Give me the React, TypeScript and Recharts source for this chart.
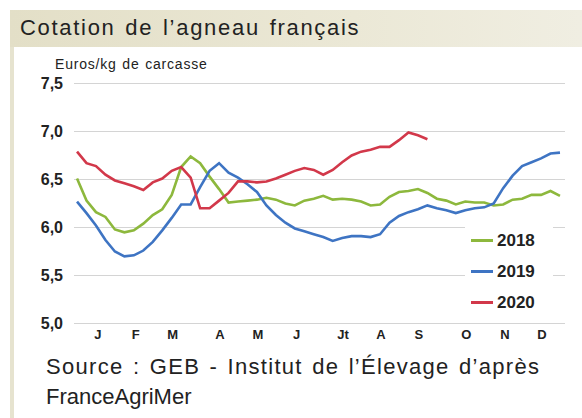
import { LineChart, Line, XAxis, YAxis, CartesianGrid } from "recharts";

// weekly prices, euros/kg carcass
const prices2018 = [
  6.51, 6.28, 6.16, 6.11, 5.98, 5.95, 5.97, 6.04, 6.13, 6.19,
  6.34, 6.63, 6.74, 6.67, 6.53, 6.4, 6.26, 6.27, 6.28, 6.29,
  6.31, 6.29, 6.25, 6.23, 6.28, 6.3, 6.33, 6.29, 6.3, 6.29,
  6.27, 6.23, 6.24, 6.32, 6.37, 6.38, 6.4, 6.36, 6.3, 6.28,
  6.24, 6.27, 6.26, 6.26, 6.23, 6.24, 6.29, 6.3, 6.34, 6.34, 6.38, 6.33,
];
const prices2019 = [
  6.27, 6.15, 6.02, 5.87, 5.75, 5.7, 5.71, 5.76, 5.85, 5.97,
  6.1, 6.24, 6.24, 6.42, 6.59, 6.67, 6.57, 6.52, 6.45, 6.37,
  6.23, 6.13, 6.05, 5.99, 5.96, 5.93, 5.9, 5.86, 5.89, 5.91,
  5.91, 5.9, 5.93, 6.05, 6.12, 6.16, 6.19, 6.23, 6.2, 6.18,
  6.15, 6.18, 6.2, 6.21, 6.25, 6.41, 6.54, 6.64, 6.68, 6.72, 6.77, 6.78,
];
const prices2020 = [
  6.79, 6.67, 6.64, 6.55, 6.49, 6.46, 6.43, 6.39, 6.47, 6.51,
  6.59, 6.63, 6.52, 6.2, 6.2, 6.28, 6.36, 6.48, 6.48, 6.47,
  6.48, 6.51, 6.55, 6.59, 6.62, 6.6, 6.55, 6.6, 6.68, 6.75,
  6.79, 6.81, 6.84, 6.84, 6.91, 6.99, 6.96, 6.92,
];

const monthLabels = ["J", "F", "M", "A", "M", "J", "Jt", "A", "S", "O", "N", "D"];
const monthWeeks = [2.2, 6.2, 10.1, 15.1, 19.1, 23.2, 28.1, 32.1, 36.1, 41.1, 45.2, 49.1];
const yTicks = [5, 5.5, 6, 6.5, 7, 7.5];

const series = [
  { key: "y2018", name: "2018", color: "#8db83d" },
  { key: "y2019", name: "2019", color: "#3e74c3" },
  { key: "y2020", name: "2020", color: "#d2384a" },
];

const data = prices2018.map((v, i) => ({
  week: i,
  y2018: v,
  y2019: prices2019[i],
  y2020: i < prices2020.length ? prices2020[i] : null,
}));

const font = "'Liberation Sans', Arial, sans-serif";

function LegendBox() {
  return (
    <div
      style={{
        position: "absolute",
        left: 465,
        top: 225,
        width: 88,
        background: "#fff",
        fontFamily: font,
      }}
    >
      {series.map((s) => (
        <div
          key={s.key}
          style={{ display: "flex", alignItems: "center", height: 31, paddingLeft: 6 }}
        >
          <span
            style={{
              display: "inline-block",
              width: 22,
              height: 2.5,
              background: s.color,
              marginRight: 4,
            }}
          />
          <span style={{ fontSize: 17, fontWeight: "bold", color: "#222" }}>
            {s.name}
          </span>
        </div>
      ))}
    </div>
  );
}

export default function App() {
  return (
    <div
      style={{
        position: "absolute",
        left: 0,
        top: 0,
        width: 582,
        height: 418,
        background: "#fff",
        overflow: "hidden",
        fontFamily: font,
      }}
    >
      <div
        style={{
          position: "absolute",
          left: 10,
          top: 10,
          width: 572,
          height: 37,
          background: "linear-gradient(to right, #e3dfc7, #ebe8d6 60%, #f0eee2)",
        }}
      />
      <div
        style={{
          position: "absolute",
          left: 10,
          top: 47,
          width: 4,
          height: 371,
          background: "#e6e3cf",
        }}
      />
      <div
        style={{
          position: "absolute",
          left: 20,
          top: 15,
          fontSize: 22,
          color: "#222",
          letterSpacing: 1.7,
          wordSpacing: 2,
        }}
      >
        Cotation de l’agneau français
      </div>
      <div
        style={{
          position: "absolute",
          left: 55,
          top: 56,
          fontSize: 14,
          color: "#222",
          letterSpacing: 0.8,
          wordSpacing: 1,
        }}
      >
        Euros/kg de carcasse
      </div>

      <div style={{ position: "absolute", left: 0, top: 0 }}>
        <LineChart
          width={582}
          height={418}
          data={data}
          margin={{ top: 83.5, right: 17, bottom: 64.5, left: 0 }}
        >
          <CartesianGrid vertical={false} stroke="#d4d4d4" strokeWidth={1.2} />
          <XAxis
            dataKey="week"
            type="number"
            domain={[-0.32, 51.53]}
            ticks={monthWeeks}
            tickFormatter={(v: number) => monthLabels[monthWeeks.indexOf(v)]}
            axisLine={false}
            tickLine={false}
            tickMargin={0}
            height={30}
            interval={0}
            tick={{ fontSize: 13, fontWeight: "bold", fill: "#222", fontFamily: font }}
          />
          <YAxis
            domain={[5, 7.5]}
            ticks={yTicks}
            width={74}
            axisLine={false}
            tickLine={false}
            tickMargin={5}
            tickFormatter={(v: number) => v.toFixed(1).replace(".", ",")}
            tick={{ fontSize: 16, fontWeight: "bold", fill: "#222", fontFamily: font }}
          />
          {series.map((s) => (
            <Line
              key={s.key}
              type="linear"
              dataKey={s.key}
              name={s.name}
              stroke={s.color}
              strokeWidth={2.6}
              dot={false}
              isAnimationActive={false}
            />
          ))}
        </LineChart>
      </div>

      <LegendBox />

      <div
        style={{
          position: "absolute",
          left: 46,
          top: 352,
          fontSize: 22,
          lineHeight: "30px",
          color: "#222",
        }}
      >
        <span style={{ letterSpacing: 1.3, wordSpacing: 2 }}>
          Source : GEB - Institut de l’Élevage d’après
        </span>
        <br />
        FranceAgriMer
      </div>
    </div>
  );
}
